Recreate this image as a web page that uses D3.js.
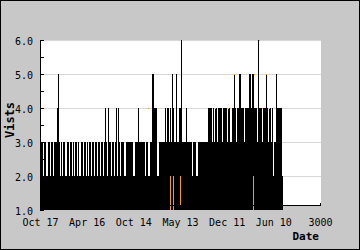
<!DOCTYPE html>
<html><head><meta charset="utf-8">
<script src="https://cdn.jsdelivr.net/npm/d3@7"></script>
<style>body{margin:0;background:#c8c8c8}svg{display:block}</style>
</head><body><svg id="c" width="360" height="250"></svg>
<script>
// ---- data ----
const xTickValues = [0, 500, 1000, 1500, 2000, 2500, 3000];
const xTickLabels = ["Oct 17", "Apr 16", "Oct 14", "May 13", "Dec 11", "Jun 10", "3000"];
const yTickValues = [1, 2, 3, 4, 5, 6];
const binDays = 3000 / 280;           // day span of one bin (one screen column)
// max visits per bin, read left to right
const visits = [
  3,3,2,3,3,2,2,3,3,2,3,3,2,3,3,3,4,5,3,2,
  3,2,3,3,2,2,3,3,2,3,3,2,3,2,3,3,2,3,2,2,
  3,3,2,3,3,2,3,2,3,3,2,3,3,2,3,3,2,3,3,2,
  3,3,2,3,4,3,2,4,3,3,2,3,3,2,3,4,2,4,3,2,
  3,3,3,2,2,3,3,3,3,3,3,3,2,2,3,3,3,4,3,3,
  3,3,3,3,2,3,3,2,2,3,3,5,5,4,4,4,2,2,3,3,
  3,3,3,3,4,3,4,4,3,4,3,5,4,3,3,5,3,3,4,4,
  6,3,3,3,3,4,3,3,3,3,3,2,3,3,3,2,2,3,3,3,
  3,3,3,3,3,3,3,4,4,4,4,3,4,3,4,4,3,4,4,4,
  4,3,4,4,4,4,3,4,4,3,3,4,4,5,4,3,4,4,5,5,
  4,4,4,3,4,4,4,4,5,5,4,5,5,4,4,4,3,6,4,4,
  4,3,4,4,4,5,4,3,4,4,3,4,2,3,3,5,4,4,4,4,4,2
];
// highlighted (orange) days: day, low, high
const highlightDays = [1398, 1430, 1495, 2277];
const highlightLow = [1, 1, 1.15, 1];
const highlightHigh = [2, 2, 2, 2];
// orange markers at the top of some spikes
const capDays = [1157, 1875, 2014, 2079, 2293, 2346, 2379, 2421, 2454];
const capLevels = [4, 4, 4, 5, 5, 6, 4, 5, 4];

// ---- chart ----
const svg = d3.select("#c");
const x = d3.scaleLinear().domain([0, 3000]).range([40, 320]);
const y = d3.scaleLinear().domain([1, 6]).range([210, 40]);
const mono = "'DejaVu Sans Mono', monospace";
const orange = "#f5a000";

svg.append("rect").attr("x", 0.5).attr("y", 0.5).attr("width", 359).attr("height", 249)
  .attr("fill", "#c8c8c8").attr("stroke", "#000");

svg.append("rect").attr("x", 40).attr("y", 40).attr("width", 281).attr("height", 165)
  .attr("fill", "#fff");

// grid
svg.append("g").selectAll("line").data(yTickValues.filter(v => v > 1)).join("line")
  .attr("x1", 40).attr("x2", 321)
  .attr("y1", d => Math.round(y(d)) + 0.5).attr("y2", d => Math.round(y(d)) + 0.5)
  .attr("stroke", "#d8d8d8");

// bars
svg.append("g").attr("shape-rendering", "crispEdges").selectAll("rect").data(visits).join("rect")
  .attr("x", (d, i) => Math.round(x((i + 1) * binDays)))
  .attr("width", 1)
  .attr("y", d => y(d))
  .attr("height", d => y(1) - y(d))
  .attr("fill", "#000");

svg.append("g").attr("shape-rendering", "crispEdges").selectAll("rect").data(highlightDays).join("rect")
  .attr("x", d => Math.round(x(d)))
  .attr("width", 1)
  .attr("y", (d, i) => y(highlightHigh[i]))
  .attr("height", (d, i) => y(highlightLow[i]) - y(highlightHigh[i]))
  .attr("fill", orange);

svg.append("g").attr("shape-rendering", "crispEdges").selectAll("rect").data(capDays).join("rect")
  .attr("x", d => Math.round(x(d)))
  .attr("width", 1)
  .attr("y", (d, i) => y(capLevels[i]))
  .attr("height", 1)
  .attr("fill", orange);

// axes lines
svg.append("line").attr("x1", 40.5).attr("x2", 40.5).attr("y1", 40).attr("y2", 210).attr("stroke", "#000");
svg.append("line").attr("x1", 40).attr("x2", 321).attr("y1", 205.5).attr("y2", 205.5).attr("stroke", "#000");
svg.append("line").attr("x1", 320.5).attr("x2", 320.5).attr("y1", 203).attr("y2", 206).attr("stroke", "#000");

// y ticks (inward, every half unit)
const yMinor = d3.range(1, 6.01, 0.5);
svg.append("g").selectAll("line").data(yMinor).join("line")
  .attr("x1", 40).attr("x2", 44)
  .attr("y1", d => Math.round(y(d)) + 0.5).attr("y2", d => Math.round(y(d)) + 0.5)
  .attr("stroke", "#000");

// y labels
svg.append("g").selectAll("text").data(yTickValues).join("text")
  .attr("x", 33).attr("y", d => y(d) + 5.3)
  .attr("text-anchor", "end").attr("font-family", mono).attr("font-size", 10)
  .text(d => d3.format(".1f")(d));

// x labels
svg.append("g").selectAll("text").data(xTickValues).join("text")
  .attr("x", d => x(d) + 0.5).attr("y", 225.5)
  .attr("text-anchor", "middle").attr("font-family", mono).attr("font-size", 10)
  .text((d, i) => xTickLabels[i]);

// titles
svg.append("text").attr("x", 319).attr("y", 240).attr("text-anchor", "end")
  .attr("font-family", mono).attr("font-size", 11).attr("font-weight", "bold").text("Date");
svg.append("text").attr("transform", "translate(14,120) rotate(-90)").attr("text-anchor", "middle")
  .attr("font-family", mono).attr("font-size", 12).attr("font-weight", "bold").text("Vists");
</script>
</body></html>
